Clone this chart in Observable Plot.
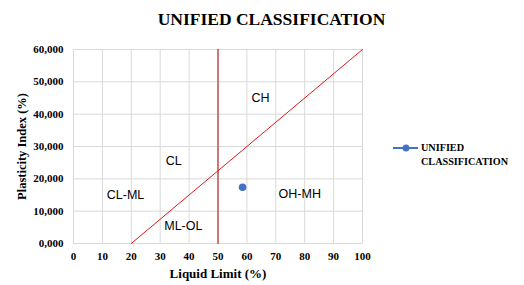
<!DOCTYPE html>
<html>
<head>
<meta charset="utf-8">
<script src="https://cdn.jsdelivr.net/npm/d3@7"></script>
<script src="https://cdn.jsdelivr.net/npm/@observablehq/plot@0.6"></script>
<style>
  html, body { margin: 0; padding: 0; background: #fff; }
  #wrap { position: relative; width: 524px; height: 285px; }
  #legend { position: absolute; left: 392px; top: 141px; font-family: "Liberation Serif", "Times New Roman", serif; font-weight: bold; font-size: 10.2px; line-height: 14px; color: #000; }
  #legend svg { position: absolute; left: 0; top: 0; }
  #legend .lbl { position: absolute; left: 29px; top: 0; white-space: nowrap; }
</style>
</head>
<body>
<div id="wrap"></div>
<script>
// ---- data ----
const chartTitle = "UNIFIED CLASSIFICATION";
const xTitle = "Liquid Limit (%)";
const yTitle = "Plasticity Index (%)";
const seriesName = "UNIFIED CLASSIFICATION";

const xTicks = [0, 10, 20, 30, 40, 50, 60, 70, 80, 90, 100];
const yTicks = [0, 10, 20, 30, 40, 50, 60];

// A-line (diagonal)
const aLineLL = [20, 100];
const aLinePI = [0, 60];
// vertical LL = 50 line
const uLineLL = [50, 50];
const uLinePI = [0, 60];

// sample point
const sampleLL = [58.5];
const samplePI = [17.4];

// zone labels
const zoneNames = ["CH", "CL", "CL-ML", "ML-OL", "OH-MH"];
const zoneLL = [64.7, 34.7, 18, 38, 78.3];
const zonePI = [45, 25.5, 14.9, 5.4, 15.2];

// ---- build ----
const aLine = aLineLL.map((x, i) => ({x, y: aLinePI[i]}));
const uLine = uLineLL.map((x, i) => ({x, y: uLinePI[i]}));
const samples = sampleLL.map((x, i) => ({x, y: samplePI[i]}));
const zones = zoneNames.map((name, i) => ({name, x: zoneLL[i], y: zonePI[i]}));

const serif = "'Liberation Serif', 'Times New Roman', serif";
const fmtY = d => d.toFixed(3).replace(".", ",");

const chart = Plot.plot({
  width: 524,
  height: 285,
  marginLeft: 73,
  marginRight: 162,
  marginTop: 49,
  marginBottom: 42,
  style: {fontFamily: serif, fontSize: "11px", fontWeight: "bold", color: "#000", background: "#fff"},
  x: {domain: [0, 100]},
  y: {domain: [0, 60]},
  marks: [
    Plot.gridX(xTicks, {stroke: "#d9d9d9", strokeOpacity: 1}),
    Plot.gridY(yTicks, {stroke: "#d9d9d9", strokeOpacity: 1}),
    Plot.line(uLine, {x: "x", y: "y", stroke: "#c0393b", strokeWidth: 1.3}),
    Plot.line(aLine, {x: "x", y: "y", stroke: "#e0161b", strokeWidth: 1}),
    Plot.dot(samples, {x: "x", y: "y", r: 3.8, fill: "#4472c4", stroke: "none"}),
    Plot.text(zones, {x: "x", y: "y", text: "name", fontFamily: "'Liberation Sans', Arial, sans-serif", fontWeight: "normal", fontSize: 12.5, fill: "#000"}),
    Plot.axisX(xTicks, {tickSize: 0, tickPadding: 9, label: null, fontWeight: "bold", fontSize: 11}),
    Plot.axisY(yTicks, {tickSize: 0, tickPadding: 10, label: null, tickFormat: fmtY, fontWeight: "bold", fontSize: 11}),
    Plot.text([xTitle], {frameAnchor: "bottom", dy: 30, lineAnchor: "middle", fontSize: 13, fontWeight: "bold", fill: "#000"}),
    Plot.text([yTitle], {frameAnchor: "left", dx: -52, rotate: -90, textAnchor: "middle", lineAnchor: "middle", fontSize: 12.5, fontWeight: "bold", fill: "#000"}),
    Plot.text([chartTitle], {frameAnchor: "top", dx: 53.5, dy: -30.5, lineAnchor: "middle", fontSize: 17.5, fontWeight: "bold", fill: "#000"})
  ]
});

const wrap = document.getElementById("wrap");
wrap.appendChild(chart);

const legend = document.createElement("div");
legend.id = "legend";
legend.innerHTML = `<svg width="30" height="14"><line x1="1" y1="7" x2="26" y2="7" stroke="#4472c4" stroke-width="2"/><circle cx="14" cy="7" r="3.5" fill="#4472c4"/></svg><div class="lbl">${seriesName.replace(" ", "<br>")}</div>`;
wrap.appendChild(legend);
</script>
</body>
</html>
